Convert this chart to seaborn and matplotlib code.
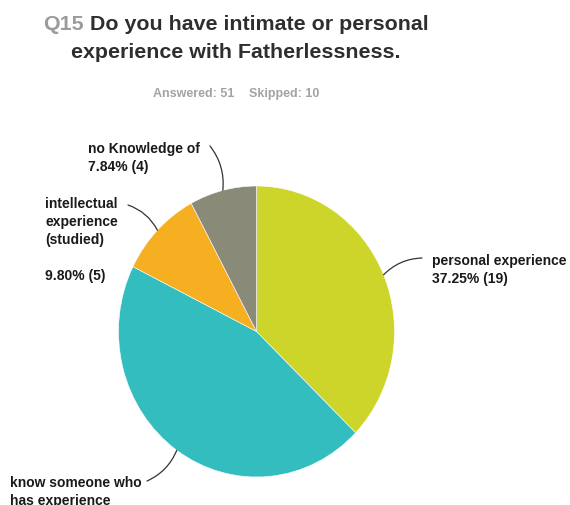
import numpy as np
import matplotlib
matplotlib.use("Agg")
import matplotlib.pyplot as plt
import seaborn as sns

# ---- data ----
categories = ["personal experience", "know someone who has experience",
              "intellectual experience (studied)", "no Knowledge of"]
counts = [19, 23, 5, 4]
percents = [37.25, 45.10, 9.80, 7.84]
label_texts = [
    "personal experience\n37.25% (19)",
    "know someone who\nhas experience\n45.10% (23)",
    "intellectual\nexperience\n(studied)\n\n9.80% (5)",
    "no Knowledge of\n7.84% (4)",
]
colors = ["#CDD52B", "#33BDBF", "#F5AF20", "#8A8A79"]
title_q = "Q15"
title_line1 = " Do you have intimate or personal"
title_line2 = "experience with Fatherlessness."
answered_text = "Answered: 51"
skipped_text = "Skipped: 10"

sns.set_style("white")
plt.rcParams["font.family"] = ["Liberation Sans", "DejaVu Sans"]

W, H = 570, 506
fig = plt.figure(figsize=(W / 100, H / 100), dpi=100)
fig.patch.set_facecolor("white")

def fy(y):  # top-based pixel -> figure pixel (bottom-based)
    return H - y

# pie axes placed by pixel extent (slightly taller than wide, as in reference)
cx, cy, rx, ry = 256.5, 332.5, 138, 145.5
ax = fig.add_axes([(cx - rx) / W, (H - cy - ry) / H, 2 * rx / W, 2 * ry / H])
wedges, _ = ax.pie(counts, colors=colors, startangle=90, counterclock=False,
                   radius=1, wedgeprops=dict(edgecolor="white", linewidth=0.4))
ax.set_xlim(-1, 1)
ax.set_ylim(-1, 1)
ax.set_aspect("auto")
ax.axis("off")

# label placement (left x, first baseline y, leader start, curve) in top-based pixels
label_pos = [
    (432, 265, (422, 259), 0.2),
    (10, 487, (147, 482), 0.2),
    (45, 208, (128, 206), -0.2),
    (88, 153, (210, 147), -0.2),
]
line_gap = 18
txt_kw = dict(fontsize=10, fontweight="bold", color="#1a1a1a")
for w, txt, (lx, by, (sx, sy), rad) in zip(wedges, label_texts, label_pos):
    for i, line in enumerate(txt.split("\n")):
        if line:
            fig.text(lx / W, fy(by + i * line_gap) / H, line, ha="left",
                     va="baseline", **txt_kw)
    mid = np.deg2rad((w.theta1 + w.theta2) / 2)
    ax.annotate("", xy=(np.cos(mid), np.sin(mid)), xycoords="data",
                xytext=(sx, fy(sy)), textcoords="figure pixels",
                arrowprops=dict(arrowstyle="-", color="#333333", lw=0.9,
                                shrinkA=0, shrinkB=0,
                                connectionstyle=f"arc3,rad={rad}"),
                annotation_clip=False)

# title
t1 = fig.text(43 / W, fy(30) / H, title_q, ha="left", va="baseline",
              fontsize=15.4, fontweight="bold", color="#9b9b9b")
fig.canvas.draw()
ax.annotate(title_line1, xy=(1, 0), xycoords=t1, xytext=(0, 0),
            textcoords="offset points", ha="left", va="bottom",
            fontsize=15.4, fontweight="bold", color="#2e2e2e",
            annotation_clip=False)
fig.text(236 / W, fy(58) / H, title_line2, ha="center", va="baseline",
         fontsize=15.4, fontweight="bold", color="#2e2e2e")

fig.text(153 / W, fy(97) / H, answered_text, ha="left", va="baseline",
         fontsize=9, fontweight="bold", color="#a3a3a3")
fig.text(249 / W, fy(97) / H, skipped_text, ha="left", va="baseline",
         fontsize=9, fontweight="bold", color="#a3a3a3")

fig.savefig("out.png", dpi=100, facecolor="white")
